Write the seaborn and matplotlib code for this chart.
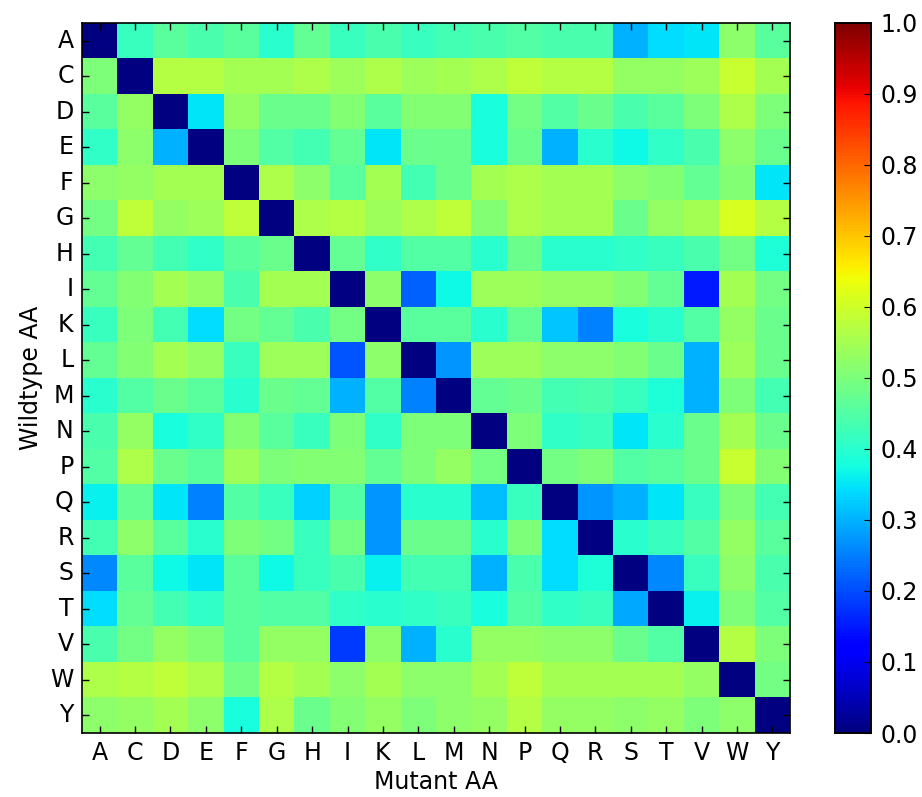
import numpy as np
import pandas as pd
import matplotlib
matplotlib.use("Agg")
import matplotlib.pyplot as plt
import seaborn as sns


# Aminoácidos (linhas = wildtype, colunas = mutante)
aminoacids = ["A", "C", "D", "E", "F", "G", "H", "I", "K", "L",
              "M", "N", "P", "Q", "R", "S", "T", "V", "W", "Y"]

# Valores, uma lista por linha (wildtype)
row_A = [0.00, 0.42, 0.46, 0.44, 0.46, 0.40, 0.47, 0.42, 0.44, 0.42, 0.43, 0.44, 0.45, 0.44, 0.44, 0.30, 0.34, 0.35, 0.52, 0.46]
row_C = [0.50, 0.00, 0.57, 0.57, 0.55, 0.55, 0.56, 0.54, 0.56, 0.54, 0.55, 0.56, 0.58, 0.57, 0.57, 0.53, 0.53, 0.54, 0.59, 0.55]
row_D = [0.46, 0.53, 0.00, 0.35, 0.53, 0.48, 0.48, 0.51, 0.46, 0.51, 0.51, 0.38, 0.49, 0.45, 0.48, 0.44, 0.46, 0.50, 0.56, 0.50]
row_E = [0.41, 0.52, 0.30, 0.00, 0.50, 0.45, 0.43, 0.47, 0.35, 0.48, 0.48, 0.38, 0.48, 0.30, 0.40, 0.37, 0.41, 0.44, 0.52, 0.48]
row_F = [0.52, 0.53, 0.55, 0.55, 0.00, 0.56, 0.52, 0.46, 0.55, 0.43, 0.48, 0.55, 0.56, 0.55, 0.55, 0.52, 0.51, 0.47, 0.51, 0.35]
row_G = [0.49, 0.58, 0.53, 0.54, 0.58, 0.00, 0.56, 0.57, 0.54, 0.56, 0.58, 0.51, 0.56, 0.55, 0.55, 0.48, 0.53, 0.55, 0.61, 0.57]
row_H = [0.43, 0.47, 0.43, 0.41, 0.46, 0.48, 0.00, 0.47, 0.41, 0.45, 0.45, 0.40, 0.48, 0.40, 0.40, 0.41, 0.42, 0.44, 0.49, 0.39]
row_I = [0.47, 0.51, 0.55, 0.53, 0.44, 0.55, 0.55, 0.00, 0.52, 0.22, 0.37, 0.54, 0.54, 0.53, 0.53, 0.51, 0.47, 0.15, 0.55, 0.49]
row_K = [0.42, 0.50, 0.43, 0.34, 0.49, 0.47, 0.44, 0.49, 0.00, 0.46, 0.46, 0.40, 0.47, 0.32, 0.25, 0.38, 0.40, 0.45, 0.53, 0.48]
row_L = [0.47, 0.51, 0.55, 0.53, 0.42, 0.54, 0.54, 0.21, 0.52, 0.00, 0.27, 0.54, 0.54, 0.52, 0.52, 0.51, 0.48, 0.30, 0.54, 0.48]
row_M = [0.40, 0.45, 0.48, 0.46, 0.40, 0.48, 0.47, 0.30, 0.45, 0.25, 0.00, 0.47, 0.48, 0.43, 0.44, 0.42, 0.39, 0.30, 0.50, 0.43]
row_N = [0.44, 0.53, 0.38, 0.41, 0.51, 0.46, 0.42, 0.50, 0.41, 0.50, 0.50, 0.00, 0.50, 0.41, 0.42, 0.35, 0.40, 0.48, 0.55, 0.48]
row_P = [0.45, 0.56, 0.48, 0.46, 0.54, 0.50, 0.51, 0.51, 0.47, 0.50, 0.53, 0.49, 0.00, 0.49, 0.50, 0.45, 0.46, 0.48, 0.59, 0.51]
row_Q = [0.36, 0.47, 0.35, 0.25, 0.45, 0.42, 0.33, 0.45, 0.27, 0.40, 0.40, 0.31, 0.42, 0.00, 0.27, 0.30, 0.35, 0.42, 0.50, 0.43]
row_R = [0.43, 0.52, 0.46, 0.40, 0.50, 0.49, 0.42, 0.49, 0.27, 0.48, 0.48, 0.40, 0.50, 0.34, 0.00, 0.40, 0.42, 0.45, 0.53, 0.46]
row_S = [0.26, 0.46, 0.37, 0.35, 0.46, 0.37, 0.42, 0.44, 0.36, 0.43, 0.43, 0.30, 0.44, 0.34, 0.39, 0.00, 0.26, 0.42, 0.52, 0.44]
row_T = [0.34, 0.47, 0.43, 0.41, 0.46, 0.45, 0.45, 0.41, 0.40, 0.41, 0.42, 0.38, 0.45, 0.41, 0.42, 0.29, 0.00, 0.36, 0.50, 0.45]
row_V = [0.44, 0.49, 0.53, 0.51, 0.46, 0.53, 0.53, 0.18, 0.52, 0.30, 0.40, 0.53, 0.53, 0.52, 0.52, 0.48, 0.45, 0.00, 0.57, 0.50]
row_W = [0.56, 0.57, 0.58, 0.56, 0.49, 0.57, 0.55, 0.52, 0.55, 0.52, 0.52, 0.55, 0.58, 0.55, 0.55, 0.55, 0.55, 0.53, 0.00, 0.49]
row_Y = [0.52, 0.53, 0.55, 0.52, 0.38, 0.56, 0.48, 0.51, 0.53, 0.50, 0.52, 0.53, 0.57, 0.53, 0.53, 0.52, 0.53, 0.50, 0.52, 0.00]

rows = [row_A, row_C, row_D, row_E, row_F, row_G, row_H, row_I, row_K, row_L,
        row_M, row_N, row_P, row_Q, row_R, row_S, row_T, row_V, row_W, row_Y]

df = pd.DataFrame(rows, index=aminoacids, columns=aminoacids) # Monta o dataframe

plt.rcParams["font.family"] = ["DejaVu Sans"]

fig = plt.figure(figsize=(9.22, 7.97), dpi=100) # Inicializa a figura
ax = fig.add_axes([0.0889, 0.0803, 0.768, 0.891]) # Eixo do heatmap
cax = fig.add_axes([0.9056, 0.0803, 0.039, 0.891]) # Eixo da barra de cores

sns.heatmap(df, ax=ax, cbar_ax=cax, cmap="jet", vmin=0, vmax=1,
            xticklabels=aminoacids, yticklabels=aminoacids) # Plota o heatmap

ax.set_xlabel("Mutant AA", fontsize=17, labelpad=3) # Label do eixo x
ax.set_ylabel("Wildtype AA", fontsize=17, labelpad=5) # Label do eixo y
ax.tick_params(direction="in", top=True, right=True, length=5, width=1,
               labelsize=17, pad=6, color="black") # Ticks para dentro
ax.set_yticklabels(aminoacids, rotation=0)
ax.set_xticklabels(aminoacids, rotation=0)
for spine in ax.spines.values(): # Moldura preta
    spine.set_visible(True)
    spine.set_linewidth(1.2)
    spine.set_color("black")

cax.set_yticks(np.arange(0, 1.01, 0.1)) # Ticks da barra de cores
cax.set_yticklabels([f"{v:.1f}" for v in np.arange(0, 1.01, 0.1)])
cax.tick_params(direction="in", length=5, labelsize=17, pad=7, color="black")
for spine in cax.spines.values():
    spine.set_visible(True)
    spine.set_linewidth(1.2)
    spine.set_color("black")

fig.savefig("out.png", dpi=100) # Salva a figura
